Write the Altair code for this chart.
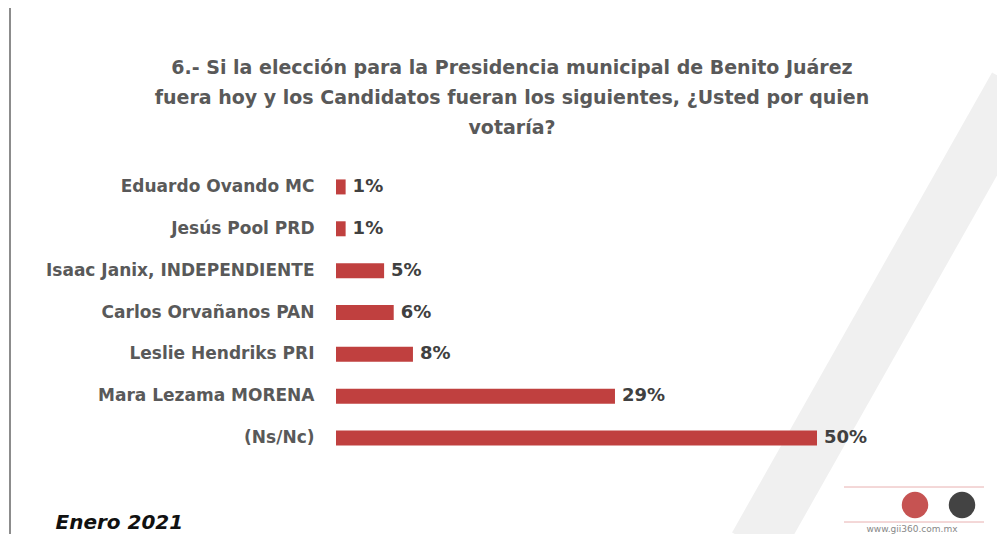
import altair as alt
import pandas as pd

titulo = (
    "6.- Si la elección para la Presidencia municipal de Benito Juárez\n"
    "fuera hoy y los Candidatos fueran los siguientes, ¿Usted por quien\n"
    "votaría?"
)
candidatos = [
    "Eduardo Ovando MC",
    "Jesús Pool PRD",
    "Isaac Janix, INDEPENDIENTE",
    "Carlos Orvañanos PAN",
    "Leslie Hendriks PRI",
    "Mara Lezama MORENA",
    "(Ns/Nc)",
]
valores = [1, 1, 5, 6, 8, 29, 50]
etiquetas = ["1%", "1%", "5%", "6%", "8%", "29%", "50%"]

df = pd.DataFrame({"cand": candidatos, "val": valores, "lab": etiquetas})

FONT = "DejaVu Sans"
GRAY = "#595959"

y_enc = alt.Y(
    "cand:N",
    sort=candidatos,
    axis=alt.Axis(
        title=None,
        domain=False,
        ticks=False,
        labelPadding=22,
        labelFont=FONT,
        labelFontSize=17,
        labelFontWeight="bold",
        labelColor=GRAY,
        labelLimit=400,
    ),
)
x_enc = alt.X(
    "val:Q",
    scale=alt.Scale(domain=[0, 50]),
    axis=alt.Axis(
        grid=False,
        domain=False,
        ticks=False,
        labels=False,
        title="Enero 2021",
        titleFont=FONT,
        titleFontSize=20,
        titleFontWeight="bold",
        titleFontStyle="italic",
        titleColor="#111111",
        titleAnchor="start",
        titleAlign="left",
        titleBaseline="middle",
        titleX=-281,
        titleY=63,
    ),
)

one = pd.DataFrame({"a": [0]})

# faint diagonal background band
band = alt.Chart(one).mark_rule(
    color="#f0f0f0", strokeWidth=55, clip=False
).encode(x=alt.value(420), y=alt.value(380), x2=alt.value(680), y2=alt.value(-80))

bars = alt.Chart(df).mark_bar(color="#c0403f", size=15).encode(x=x_enc, y=y_enc)
text = alt.Chart(df).mark_text(
    align="left", baseline="middle", dx=7, font=FONT, fontSize=18,
    fontWeight="bold", color="#404040"
).encode(x="val:Q", y=alt.Y("cand:N", sort=candidatos), text="lab:N")

title_mark = alt.Chart(pd.DataFrame({"t": [titulo]})).mark_text(
    font=FONT, fontSize=19, fontWeight="bold", color=GRAY, align="center",
    baseline="middle", lineBreak="\n", lineHeight=30, clip=False
).encode(x=alt.value(176), y=alt.value(-98), text="t:N")

# decorative frame line on the left and logo footer
frame = alt.Chart(one).mark_rule(
    color="#8c8c8c", strokeWidth=2, clip=False
).encode(x=alt.value(-326), y=alt.value(-166), y2=alt.value(376))
logo_top = alt.Chart(one).mark_rule(
    color="#e8b0b0", strokeWidth=1, clip=False
).encode(x=alt.value(508), x2=alt.value(648), y=alt.value(321))
logo_bot = alt.Chart(one).mark_rule(
    color="#e8b0b0", strokeWidth=1, clip=False
).encode(x=alt.value(508), x2=alt.value(648), y=alt.value(356))
logo_red = alt.Chart(one).mark_point(
    filled=True, color="#c0403f", size=700, opacity=0.9, clip=False
).encode(x=alt.value(579), y=alt.value(339))
logo_black = alt.Chart(one).mark_point(
    filled=True, color="#2f2f2f", size=700, opacity=0.9, clip=False
).encode(x=alt.value(626), y=alt.value(339))
logo_url = alt.Chart(pd.DataFrame({"t": ["www.gii360.com.mx"]})).mark_text(
    font=FONT, fontSize=9, color="#888888", align="center", baseline="middle", clip=False
).encode(x=alt.value(576), y=alt.value(363), text="t:N")

chart = (
    alt.layer(band, bars, text, title_mark, frame, logo_top, logo_bot,
              logo_red, logo_black, logo_url)
    .properties(
        width=481,
        height=293,
        autosize=alt.AutoSizeParams(type="none"),
        padding={"left": 328, "top": 158, "right": 180, "bottom": 75},
        view=alt.ViewBackground(stroke="transparent", strokeWidth=0),
    )
    .configure_view(stroke="transparent", strokeWidth=0)
    .configure(background="white")
)

chart.save("out.html", embed_options={"renderer": "svg", "actions": False})
